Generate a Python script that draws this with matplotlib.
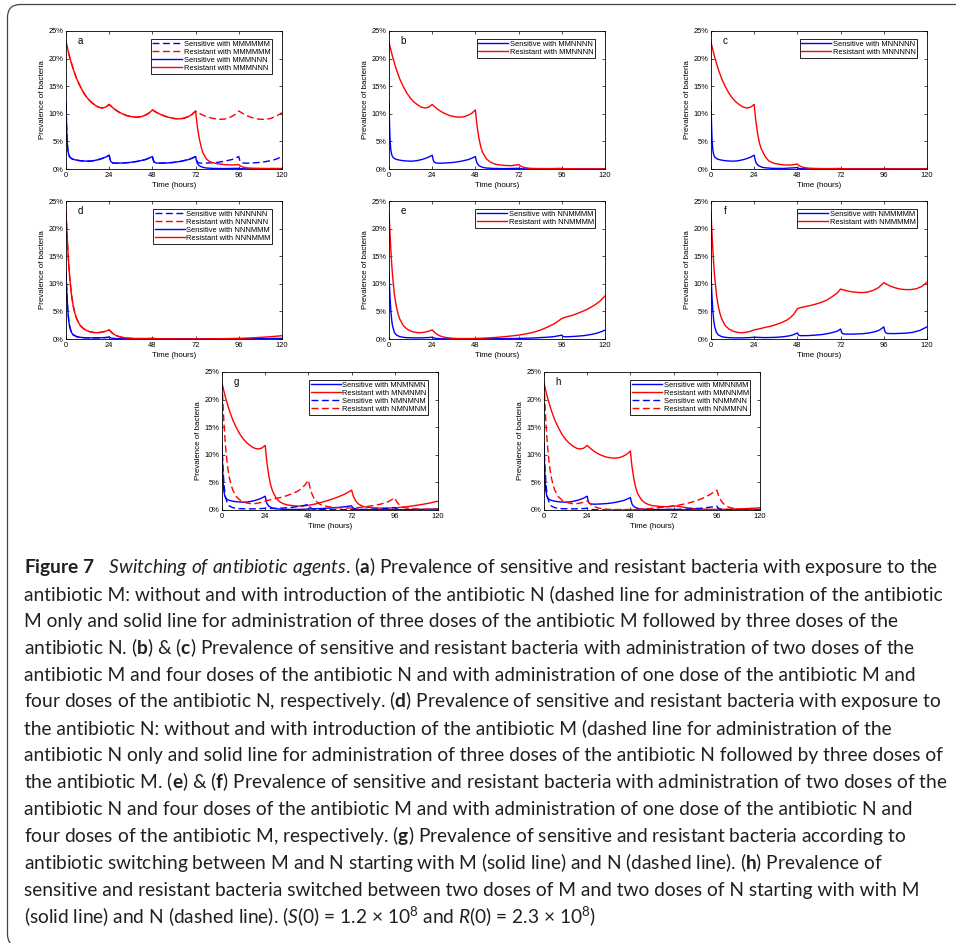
import matplotlib
matplotlib.use('Agg')
import matplotlib.pyplot as plt
from matplotlib import font_manager as fm
from matplotlib.patches import FancyBboxPatch

# ------------------------------------------------------------
# Curve data: time (hours), prevalence (%)
# Segments that share the same dosing history are reused.
# ------------------------------------------------------------
# resistant, first dose M (0-24h)
res_m1_t = [0, 1, 2, 3, 4, 6, 8, 10, 12, 14, 16, 18, 20, 22, 24]
res_m1 = [23.0, 21.6, 20.3, 19.2, 18.1, 16.3, 14.9, 13.7, 12.8, 12.1, 11.6, 11.2, 11.05, 11.2, 11.7]
# resistant, M after M (24-48h)
res_m2_t = [24, 25, 26, 28, 30, 32, 34, 36, 38, 40, 42, 44, 46, 48]
res_m2 = [11.7, 11.4, 11.1, 10.6, 10.2, 9.9, 9.65, 9.5, 9.4, 9.4, 9.5, 9.75, 10.1, 10.7]
res_m3_t = [48, 50, 52, 54, 56, 58, 60, 62, 64, 66, 68, 70, 72]
res_m3 = [10.7, 10.3, 9.95, 9.7, 9.45, 9.3, 9.15, 9.1, 9.1, 9.25, 9.5, 9.9, 10.5]
res_m4_t = [72, 74, 76, 78, 80, 82, 84, 86, 88, 90, 92, 94, 96]
res_m4 = [10.5, 10.1, 9.75, 9.5, 9.3, 9.15, 9.05, 9.0, 9.05, 9.2, 9.5, 9.9, 10.5]
res_m5_t = [96, 98, 100, 102, 104, 106, 108, 110, 112, 114, 116, 118, 120]
res_m5 = [10.5, 10.1, 9.75, 9.45, 9.25, 9.1, 9.0, 9.0, 9.05, 9.2, 9.45, 9.8, 10.2]
# resistant, first dose N (0-24h) and N after N (24-48h)
res_n1_t = [0, 0.5, 1, 1.5, 2, 3, 4, 5, 6, 8, 10, 12, 14, 16, 18, 20, 22, 24]
res_n1 = [23.0, 19.5, 16.3, 13.6, 11.4, 8.1, 6.0, 4.6, 3.6, 2.4, 1.8, 1.45, 1.25, 1.15, 1.15, 1.25, 1.4, 1.65]
res_n2_t = [24, 25, 26, 28, 30, 32, 35, 38, 42, 48]
res_n2 = [1.65, 1.3, 1.0, 0.6, 0.38, 0.25, 0.14, 0.09, 0.08, 0.1]

# sensitive, M doses
sen_m1_t = [0, 0.3, 0.6, 1, 1.5, 2, 3, 4, 6, 8, 10, 12, 14, 16, 18, 20, 22, 24]
sen_m1 = [12.0, 8.0, 5.2, 3.5, 2.6, 2.2, 1.9, 1.75, 1.6, 1.5, 1.45, 1.42, 1.45, 1.55, 1.7, 1.9, 2.15, 2.5]
sen_m2_t = [24, 24.5, 25, 26, 28, 32, 36, 40, 44, 46, 48]
sen_m2 = [2.5, 1.7, 1.3, 1.1, 1.05, 1.1, 1.2, 1.4, 1.7, 1.95, 2.25]
sen_m3_t = [48, 48.5, 49, 50, 52, 56, 60, 64, 68, 70, 72]
sen_m3 = [2.25, 1.6, 1.25, 1.1, 1.05, 1.1, 1.2, 1.4, 1.7, 1.95, 2.25]
sen_m4_t = [72, 72.5, 73, 74, 76, 80, 84, 88, 92, 94, 96]
sen_m4 = [2.25, 1.6, 1.25, 1.1, 1.05, 1.1, 1.2, 1.4, 1.7, 1.95, 2.25]
sen_m5_t = [96, 96.5, 97, 98, 100, 104, 108, 112, 116, 118, 120]
sen_m5 = [2.25, 1.6, 1.25, 1.1, 1.05, 1.1, 1.2, 1.4, 1.7, 1.95, 2.25]
# sensitive, N doses
sen_n1_t = [0, 0.5, 1, 1.5, 2, 3, 4, 6, 8, 10, 14, 18, 22, 24]
sen_n1 = [12.0, 8.0, 5.2, 3.4, 2.3, 1.2, 0.75, 0.42, 0.3, 0.24, 0.2, 0.21, 0.26, 0.32]
sen_n2_t = [24, 25, 26, 28, 32, 40, 48]
sen_n2 = [0.32, 0.18, 0.11, 0.06, 0.03, 0.02, 0.02]

# panel a: MMMNNN tail after 72h
a_res_t = [72, 72.5, 73, 74, 75, 76, 78, 80, 84, 88, 92, 96, 97, 98, 100, 104, 110, 120]
a_res = [10.5, 9.0, 7.6, 5.6, 4.1, 3.0, 1.8, 1.3, 0.95, 0.8, 0.72, 0.8, 0.55, 0.38, 0.22, 0.14, 0.1, 0.1]
a_sen_t = [72, 72.5, 73, 74, 76, 78, 82, 88, 96, 97, 100, 120]
a_sen = [2.25, 1.5, 1.0, 0.6, 0.3, 0.18, 0.1, 0.08, 0.12, 0.05, 0.03, 0.02]

# panel b: MMNNNN tail after 48h
b_res_t = [48, 48.5, 49, 50, 51, 52, 54, 56, 58, 60, 64, 68, 72, 73, 74, 76, 78, 80, 84, 90, 96, 97, 100, 108, 120]
b_res = [10.7, 9.0, 7.6, 5.5, 4.0, 3.0, 1.9, 1.3, 1.0, 0.8, 0.65, 0.6, 0.8, 0.55, 0.4, 0.22, 0.14, 0.1,
         0.08, 0.08, 0.12, 0.07, 0.04, 0.02, 0.02]
b_sen_t = [48, 48.5, 49, 50, 52, 54, 58, 64, 72, 73, 76, 84, 96, 120]
b_sen = [2.25, 1.5, 1.0, 0.6, 0.3, 0.18, 0.1, 0.07, 0.12, 0.05, 0.03, 0.02, 0.02, 0.01]

# panel c: MNNNNN tail after 24h
c_res_t = [24, 24.5, 25, 26, 27, 28, 30, 32, 34, 36, 40, 44, 48, 49, 50, 52, 54, 58, 64, 72, 73, 76, 84, 96, 120]
c_res = [11.7, 10.0, 8.5, 6.2, 4.6, 3.6, 2.3, 1.5, 1.15, 0.95, 0.75, 0.7, 0.9, 0.6, 0.42, 0.25, 0.16, 0.1,
         0.07, 0.1, 0.05, 0.03, 0.02, 0.02, 0.01]
c_sen_t = [24, 24.5, 25, 26, 28, 30, 34, 40, 48, 49, 52, 60, 72, 120]
c_sen = [2.5, 1.7, 1.15, 0.7, 0.35, 0.22, 0.12, 0.1, 0.25, 0.08, 0.04, 0.02, 0.03, 0.01]

# panel d: NNN then NNN (dashed) or MMM (solid)
d_res_t = [48, 49, 52, 56, 60, 66, 72]
d_res = [0.18, 0.1, 0.05, 0.03, 0.02, 0.02, 0.02]
d_res_nnn_t = [72, 96, 120]
d_res_nnn = [0.02, 0.01, 0.01]
d_res_mmm_t = [72, 78, 84, 90, 96, 100, 104, 108, 112, 116, 120]
d_res_mmm = [0.02, 0.03, 0.05, 0.08, 0.12, 0.16, 0.22, 0.3, 0.38, 0.48, 0.6]
d_sen_t = [48, 60, 72]
d_sen = [0.02, 0.01, 0.01]
d_sen_nnn_t = [72, 120]
d_sen_nnn = [0.01, 0.005]
d_sen_mmm_t = [72, 96, 104, 112, 120]
d_sen_mmm = [0.01, 0.03, 0.05, 0.08, 0.12]

# panel e: NNMMMM tail after 48h
e_res_t = [48, 54, 60, 66, 72, 76, 80, 84, 88, 92, 96, 98, 102, 106, 110, 114, 117, 120]
e_res = [0.1, 0.18, 0.3, 0.48, 0.7, 0.92, 1.2, 1.6, 2.15, 2.8, 3.7, 3.95, 4.3, 4.8, 5.35, 6.1, 6.8, 7.8]
e_sen_t = [48, 60, 72, 80, 88, 92, 96, 96.5, 97, 98, 102, 108, 112, 116, 120]
e_sen = [0.02, 0.05, 0.1, 0.18, 0.32, 0.45, 0.7, 0.5, 0.42, 0.4, 0.45, 0.6, 0.8, 1.1, 1.6]

# panel f: NMMMMM tail after 24h
f_res_t = [24, 27, 30, 33, 36, 39, 42, 44, 46, 48, 50, 52, 55, 58, 61, 64, 67, 70, 72, 74, 76, 78, 81, 84,
           87, 90, 93, 96, 98, 100, 102, 105, 108, 111, 114, 117, 120]
f_res = [1.65, 1.85, 2.1, 2.3, 2.6, 2.95, 3.4, 3.85, 4.5, 5.5, 5.7, 5.85, 6.05, 6.3, 6.6, 7.0, 7.6, 8.3,
         9.05, 8.85, 8.7, 8.55, 8.45, 8.4, 8.5, 8.8, 9.3, 10.2, 9.85, 9.55, 9.3, 9.05, 8.95, 8.95, 9.1, 9.5, 10.3]
f_sen_t = [24, 30, 36, 40, 44, 46, 48, 48.5, 49, 50, 54, 58, 62, 66, 70, 72, 72.5, 73, 74, 78, 84, 88, 92,
           94, 96, 96.5, 97, 98, 102, 108, 112, 116, 120]
f_sen = [0.32, 0.25, 0.3, 0.4, 0.6, 0.8, 1.1, 0.8, 0.65, 0.6, 0.62, 0.7, 0.82, 1.05, 1.4, 1.8, 1.25, 1.0,
         0.9, 0.88, 0.95, 1.1, 1.4, 1.7, 2.2, 1.5, 1.15, 1.0, 0.98, 1.05, 1.2, 1.55, 2.2]

# panel g: MNMNMN (solid) and NMNMNM (dashed)
g_res_mn_t = [24, 24.5, 25, 26, 27, 28, 30, 32, 34, 36, 40, 44, 48, 52, 56, 60, 64, 68, 70, 72, 72.5, 73,
              74, 75, 76, 78, 80, 84, 88, 92, 96, 100, 104, 108, 112, 116, 120]
g_res_mn = [11.7, 10.0, 8.5, 6.2, 4.6, 3.5, 2.2, 1.5, 1.15, 0.95, 0.75, 0.7, 0.85, 1.1, 1.45, 1.85, 2.3,
            2.85, 3.2, 3.6, 3.0, 2.5, 1.8, 1.35, 1.05, 0.7, 0.52, 0.4, 0.35, 0.35, 0.4, 0.5, 0.65, 0.85,
            1.05, 1.3, 1.6]
g_res_nm_t = [24, 27, 30, 33, 36, 39, 42, 44, 46, 48, 48.5, 49, 50, 51, 52, 54, 56, 60, 64, 68, 72, 76, 80,
              84, 88, 92, 96, 96.5, 97, 98, 99, 100, 102, 106, 110, 115, 120]
g_res_nm = [1.65, 1.85, 2.1, 2.3, 2.6, 2.95, 3.4, 3.85, 4.5, 5.4, 4.6, 3.9, 2.9, 2.2, 1.7, 1.1, 0.8, 0.55,
            0.42, 0.36, 0.35, 0.45, 0.6, 0.8, 1.05, 1.45, 2.2, 1.85, 1.55, 1.1, 0.8, 0.6, 0.38, 0.22, 0.17,
            0.15, 0.15]
g_sen_mn_t = [24, 24.5, 25, 26, 28, 30, 34, 40, 44, 48, 52, 56, 60, 64, 68, 72, 72.5, 73, 74, 76, 80, 88,
              96, 104, 112, 120]
g_sen_mn = [2.5, 1.7, 1.15, 0.7, 0.35, 0.22, 0.12, 0.1, 0.12, 0.18, 0.22, 0.28, 0.35, 0.45, 0.58, 0.75,
            0.5, 0.35, 0.22, 0.1, 0.05, 0.04, 0.05, 0.08, 0.12, 0.2]
g_sen_nm_t = [24, 28, 32, 36, 40, 44, 46, 48, 48.5, 49, 50, 52, 56, 64, 72, 80, 88, 92, 96, 96.5, 97, 98,
              100, 106, 120]
g_sen_nm = [0.32, 0.28, 0.32, 0.4, 0.52, 0.72, 0.85, 1.05, 0.7, 0.45, 0.25, 0.12, 0.06, 0.05, 0.07, 0.12,
            0.22, 0.3, 0.45, 0.3, 0.2, 0.12, 0.06, 0.03, 0.02]

# panel h: MMNNMM (solid) and NNMMNN (dashed)
h_res_mm_t = [48, 48.5, 49, 50, 51, 52, 54, 56, 58, 60, 64, 68, 72, 74, 76, 78, 80, 84, 88, 92, 96, 100,
              104, 108, 112, 116, 120]
h_res_mm = [10.7, 9.0, 7.6, 5.5, 4.0, 3.0, 1.9, 1.3, 1.0, 0.8, 0.65, 0.6, 0.75, 0.68, 0.58, 0.48, 0.38,
            0.25, 0.17, 0.13, 0.12, 0.13, 0.16, 0.2, 0.25, 0.32, 0.4]
h_res_nn_t = [48, 54, 60, 66, 72, 76, 80, 84, 88, 92, 96, 96.5, 97, 98, 99, 100, 102, 104, 108, 114, 120]
h_res_nn = [0.1, 0.18, 0.3, 0.48, 0.7, 0.95, 1.25, 1.6, 2.1, 2.75, 3.6, 3.1, 2.6, 1.9, 1.4, 1.05, 0.6,
            0.38, 0.2, 0.12, 0.1]
h_sen_mm_t = [48, 48.5, 49, 50, 52, 54, 58, 64, 72, 73, 76, 84, 96, 100, 110, 120]
h_sen_mm = [2.25, 1.5, 1.0, 0.6, 0.3, 0.18, 0.1, 0.07, 0.12, 0.05, 0.03, 0.02, 0.02, 0.03, 0.05, 0.1]
h_sen_nn_t = [48, 60, 72, 80, 84, 88, 92, 96, 96.5, 97, 98, 100, 104, 120]
h_sen_nn = [0.02, 0.05, 0.1, 0.18, 0.25, 0.35, 0.5, 0.7, 0.45, 0.3, 0.18, 0.08, 0.04, 0.02]

hour_ticks = [0, 24, 48, 72, 96, 120]
pct_ticks = [0, 5, 10, 15, 20, 25]

caption_lines = [
    r"$\mathbf{Figure\ 7}$   $\mathit{Switching\ of\ antibiotic\ agents}$. ($\mathbf{a}$) Prevalence of sensitive and resistant bacteria with exposure to the",
    "antibiotic M: without and with introduction of the antibiotic N (dashed line for administration of the antibiotic",
    "M only and solid line for administration of three doses of the antibiotic M followed by three doses of the",
    r"antibiotic N. ($\mathbf{b}$) & ($\mathbf{c}$) Prevalence of sensitive and resistant bacteria with administration of two doses of the",
    "antibiotic M and four doses of the antibiotic N and with administration of one dose of the antibiotic M and",
    r"four doses of the antibiotic N, respectively. ($\mathbf{d}$) Prevalence of sensitive and resistant bacteria with exposure to",
    "the antibiotic N: without and with introduction of the antibiotic M (dashed line for administration of the",
    "antibiotic N only and solid line for administration of three doses of the antibiotic N followed by three doses of",
    r"the antibiotic M. ($\mathbf{e}$) & ($\mathbf{f}$) Prevalence of sensitive and resistant bacteria with administration of two doses of the",
    "antibiotic N and four doses of the antibiotic M and with administration of one dose of the antibiotic N and",
    r"four doses of the antibiotic M, respectively. ($\mathbf{g}$) Prevalence of sensitive and resistant bacteria according to",
    r"antibiotic switching between M and N starting with M (solid line) and N (dashed line). ($\mathbf{h}$) Prevalence of",
    "sensitive and resistant bacteria switched between two doses of M and two doses of N starting with with M",
    r"(solid line) and N (dashed line). ($\mathit{S}$(0) = 1.2 × $10^8$ and $\mathit{R}$(0) = 2.3 × $10^8$)",
]


def join(*parts):
    ts, vs = [], []
    for t, v in parts:
        if ts and t[0] == ts[-1]:
            t, v = t[1:], v[1:]
        ts += list(t)
        vs += list(v)
    return ts, vs


# ------------------------------------------------------------
names = {f.name for f in fm.fontManager.ttflist}
cap_font = next((n for n in ['Lato', 'Open Sans', 'Noto Sans', 'Liberation Sans'] if n in names), 'DejaVu Sans')
ax_font = 'Liberation Sans' if 'Liberation Sans' in names else 'DejaVu Sans'

plt.rcParams.update({
    'font.family': ax_font,
    'mathtext.fontset': 'custom',
    'mathtext.rm': cap_font,
    'mathtext.it': cap_font + ':italic',
    'mathtext.bf': cap_font + ':bold',
})

W, H = 956, 943
fig = plt.figure(figsize=(W / 100, H / 100), dpi=100)
fig.patch.set_facecolor('white')


def make_axes(left, top):
    return fig.add_axes([left / W, 1 - (top + 138) / H, 216 / W, 138 / H])


def style(ax, letter):
    ax.set_xlim(0, 120)
    ax.set_ylim(0, 25)
    ax.set_xticks(hour_ticks)
    ax.set_yticks(pct_ticks)
    ax.set_yticklabels([f'{p}%' for p in pct_ticks])
    ax.tick_params(direction='in', length=2.2, width=0.5, top=True, right=True,
                   labelsize=5.4, pad=2)
    for s in ax.spines.values():
        s.set_linewidth(0.6)
    ax.set_xlabel('Time (hours)', fontsize=5.7, labelpad=2)
    ax.set_ylabel('Prevalence of bacteria', fontsize=5.7, labelpad=1.5)
    ax.text(0.066, 0.925, letter, transform=ax.transAxes, fontsize=7, ha='center', va='center')
    ax.legend(loc='upper right', bbox_to_anchor=(0.955, 0.94), borderaxespad=0, fontsize=5.4,
              handlelength=4.0, handletextpad=0.25, labelspacing=0.1, borderpad=0.2,
              fancybox=False, framealpha=1, edgecolor='black').get_frame().set_linewidth(0.6)


BLUE, RED = '#0000ff', '#ff0000'
LW = 1.0
DASH = (0, (5, 2.5))


def line(ax, tv, color, dashed, label):
    ax.plot(tv[0], tv[1], color=color, lw=LW, linestyle=DASH if dashed else '-', label=label)


RM1, RM2, RM3 = (res_m1_t, res_m1), (res_m2_t, res_m2), (res_m3_t, res_m3)
SM1, SM2, SM3 = (sen_m1_t, sen_m1), (sen_m2_t, sen_m2), (sen_m3_t, sen_m3)
RN1, RN2 = (res_n1_t, res_n1), (res_n2_t, res_n2)
SN1, SN2 = (sen_n1_t, sen_n1), (sen_n2_t, sen_n2)

# a
ax = make_axes(66, 31)
line(ax, join(SM1, SM2, SM3, (sen_m4_t, sen_m4), (sen_m5_t, sen_m5)), BLUE, True, 'Sensitive with MMMMMM')
line(ax, join(RM1, RM2, RM3, (res_m4_t, res_m4), (res_m5_t, res_m5)), RED, True, 'Resistant with MMMMMM')
line(ax, join(SM1, SM2, SM3, (a_sen_t, a_sen)), BLUE, False, 'Sensitive with MMMNNN')
line(ax, join(RM1, RM2, RM3, (a_res_t, a_res)), RED, False, 'Resistant with MMMNNN')
style(ax, 'a')

# b
ax = make_axes(389, 31)
line(ax, join(SM1, SM2, (b_sen_t, b_sen)), BLUE, False, 'Sensitive with MMNNNN')
line(ax, join(RM1, RM2, (b_res_t, b_res)), RED, False, 'Resistant with MMNNNN')
style(ax, 'b')

# c
ax = make_axes(711, 31)
line(ax, join(SM1, (c_sen_t, c_sen)), BLUE, False, 'Sensitive with MNNNNN')
line(ax, join(RM1, (c_res_t, c_res)), RED, False, 'Resistant with MNNNNN')
style(ax, 'c')

# d
ax = make_axes(66, 201)
line(ax, join(SN1, SN2, (d_sen_t, d_sen), (d_sen_nnn_t, d_sen_nnn)), BLUE, True, 'Sensitive with NNNNNN')
line(ax, join(RN1, RN2, (d_res_t, d_res), (d_res_nnn_t, d_res_nnn)), RED, True, 'Resistant with NNNNNN')
line(ax, join(SN1, SN2, (d_sen_t, d_sen), (d_sen_mmm_t, d_sen_mmm)), BLUE, False, 'Sensitive with NNNMMM')
line(ax, join(RN1, RN2, (d_res_t, d_res), (d_res_mmm_t, d_res_mmm)), RED, False, 'Resistant with NNNMMM')
style(ax, 'd')

# e
ax = make_axes(389, 201)
line(ax, join(SN1, SN2, (e_sen_t, e_sen)), BLUE, False, 'Sensitive with NNMMMM')
line(ax, join(RN1, RN2, (e_res_t, e_res)), RED, False, 'Resistant with NNMMMM')
style(ax, 'e')

# f
ax = make_axes(711, 201)
line(ax, join(SN1, (f_sen_t, f_sen)), BLUE, False, 'Sensitive with NMMMMM')
line(ax, join(RN1, (f_res_t, f_res)), RED, False, 'Resistant with NMMMMM')
style(ax, 'f')

# g
ax = make_axes(222, 372)
line(ax, join(SM1, (g_sen_mn_t, g_sen_mn)), BLUE, False, 'Sensitive with MNMNMN')
line(ax, join(RM1, (g_res_mn_t, g_res_mn)), RED, False, 'Resistant with MNMNMN')
line(ax, join(SN1, (g_sen_nm_t, g_sen_nm)), BLUE, True, 'Sensitive with NMNMNM')
line(ax, join(RN1, (g_res_nm_t, g_res_nm)), RED, True, 'Resistant with NMNMNM')
style(ax, 'g')

# h
ax = make_axes(544, 372)
line(ax, join(SM1, SM2, (h_sen_mm_t, h_sen_mm)), BLUE, False, 'Sensitive with MMNNMM')
line(ax, join(RM1, RM2, (h_res_mm_t, h_res_mm)), RED, False, 'Resistant with MMNNMM')
line(ax, join(SN1, SN2, (h_sen_nn_t, h_sen_nn)), BLUE, True, 'Sensitive with NNMMNN')
line(ax, join(RN1, RN2, (h_res_nn_t, h_res_nn)), RED, True, 'Resistant with NNMMNN')
style(ax, 'h')

# caption
texts = []
for i, txt in enumerate(caption_lines):
    y = 573 + i * 26.9
    texts.append(fig.text(24 / W, 1 - y / H, txt, fontsize=12, family=cap_font,
                          color='#231f20', ha='left', va='baseline'))
renderer = fig.canvas.get_renderer()
widest = max(t.get_window_extent(renderer).width for t in texts)
for t in texts:
    t.set_fontsize(12 * 921 / widest)

# rounded frame around the figure block (runs off right/bottom edge)
frame = FancyBboxPatch((7.5, -4), 1000, H - 4.5 + 4, boxstyle='round,pad=0,rounding_size=13',
                       transform=None, fill=False, edgecolor='#444444', linewidth=0.9)
fig.add_artist(frame)

fig.savefig('out.png', dpi=100)
